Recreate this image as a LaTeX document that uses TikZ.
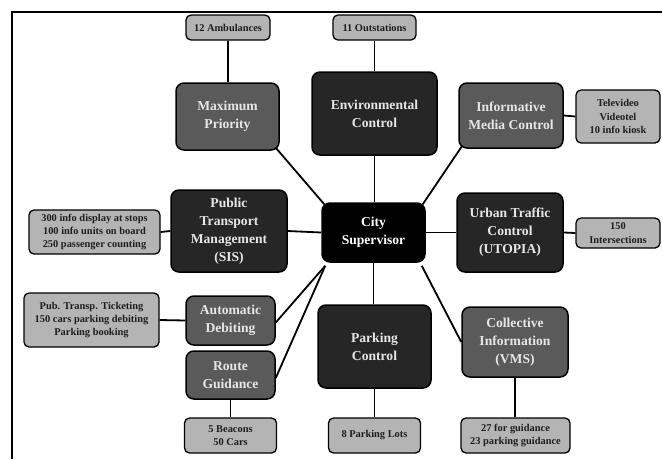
\documentclass[tikz,border=0pt]{standalone}
\usepackage{fontspec}
\setmainfont{Liberation Serif}
\usetikzlibrary{backgrounds}
\definecolor{midgray}{HTML}{5A5A5A}
\definecolor{darkbox}{HTML}{262626}
\definecolor{leafgray}{HTML}{B4B4B4}
\definecolor{lighttext}{HTML}{E6E6E6}
\definecolor{leaftext}{HTML}{1E1E1E}
\tikzset{
  mainbox/.style={draw=black, line width=1.5pt, rounded corners=8pt, align=center,
    text=lighttext, font=\bfseries\fontsize{13.6}{18}\selectfont, inner sep=0pt},
  midbox/.style={mainbox, fill=midgray},
  darkbx/.style={mainbox, fill=darkbox},
  blackbx/.style={mainbox, fill=black, text=white},
  leaf/.style={draw=black, line width=1.3pt, rounded corners=5pt, fill=leafgray, align=center,
    text=leaftext, font=\bfseries\fontsize{10.4}{13.3}\selectfont, inner sep=0pt},
  link/.style={draw=black, line width=1.8pt},
  sz/.style 2 args={minimum width=#1pt, minimum height=#2pt}
}
\begin{document}
\begin{tikzpicture}[x=1pt, y=-1pt]
\useasboundingbox (0,0) rectangle (662,459);

% main boxes
\node[midbox, sz={103}{67}] (maxp) at (227.5,116.5) {Maximum\\Priority};
\node[darkbx, sz={125}{83}] (env) at (374.5,113.5) {Environmental\\Control};
\node[midbox, sz={104}{65}] (imc) at (511,115.5) {Informative\\Media Control};
\node[blackbx, sz={103}{59}] (city) at (373.5,232.5) {City\\Supervisor};
\node[darkbx, sz={106}{79}] (utc) at (510,232.5) {Urban Traffic\\Control\\(UTOPIA)};
\node[darkbx, sz={116}{82}] (ptm) at (229,231) {Public\\Transport\\Management\\(SIS)};
\node[midbox, sz={89}{49}] (adeb) at (230.5,320.5) {Automatic\\Debiting};
\node[midbox, sz={89}{48}] (route) at (230.5,375) {Route\\Guidance};
\node[darkbx, sz={113}{83}] (park) at (374.5,346.5) {Parking\\Control};
\node[midbox, sz={106}{70}] (coll) at (515,342) {Collective\\Information\\(VMS)};

% leaf boxes
\node[leaf, sz={84}{25}] (amb) at (228,27.5) {12 Ambulances};
\node[leaf, sz={83}{25}] (out) at (374.5,27.5) {11 Outstations};
\node[leaf, sz={84}{53}] (tele) at (618,116.5) {Televideo\\Videotel\\10 info kiosk};
\node[leaf, sz={84}{30}] (inter) at (618,233) {150\\Intersections};
\node[leaf, sz={131}{44}] (info) at (94.5,232) {300 info display at stops\\100 info units on board\\250 passenger counting};
\node[leaf, sz={135}{54}] (tick) at (91.5,320) {Pub. Transp. Ticketing\\150 cars parking debiting\\Parking booking};
\node[leaf, sz={92}{35}] (beac) at (230.5,435.5) {5 Beacons\\50 Cars};
\node[leaf, sz={92}{35}] (lots) at (374.5,435.5) {8 Parking Lots};
\node[leaf, sz={109}{35}] (g27) at (515.5,435.5) {27 for guidance\\23 parking guidance};

\begin{scope}[on background layer]
\fill[white] (0,0) rectangle (662,459);
\draw[line width=2pt] (12,459) -- (12,12) -- (662,12);
\draw[link] (amb.south) -- (maxp.north -| amb.south);
\draw[link] ([xshift=-4pt,yshift=3pt]maxp.south east) -- ([xshift=3pt,yshift=-2pt]city.north west);
\draw[link] (out.south) -- (env.north -| out.south);
\draw[link] (env.south) -- (city.north -| env.south);
\draw[link] ([xshift=4pt,yshift=3pt]imc.south west) -- ([xshift=-3pt,yshift=-2pt]city.north east);
\draw[link] (imc.east) -- (tele.west);
\draw[link] (city.east) -- (utc.west);
\draw[link] (utc.east) -- (inter.west);
\draw[link] (ptm.east) -- (city.west);
\draw[link] (info.east) -- (ptm.west);
\draw[link] (tick.east) -- (adeb.west);
\draw[link] ([xshift=4pt,yshift=-3pt]city.south west) -- ([yshift=-2pt]adeb.east);
\draw[link] ([xshift=4pt,yshift=-3pt]city.south west) -- ([yshift=-3pt]route.east);
\draw[link] (route.south) -- (beac.north -| route.south);
\draw[link] (city.south) -- (park.north -| city.south);
\draw[link] (park.south) -- (lots.north -| park.south);
\draw[link] ([xshift=-4pt,yshift=-3pt]city.south east) -- (coll.west);
\draw[link] (coll.south) -- (g27.north -| coll.south);
\end{scope}
\end{tikzpicture}
\end{document}
